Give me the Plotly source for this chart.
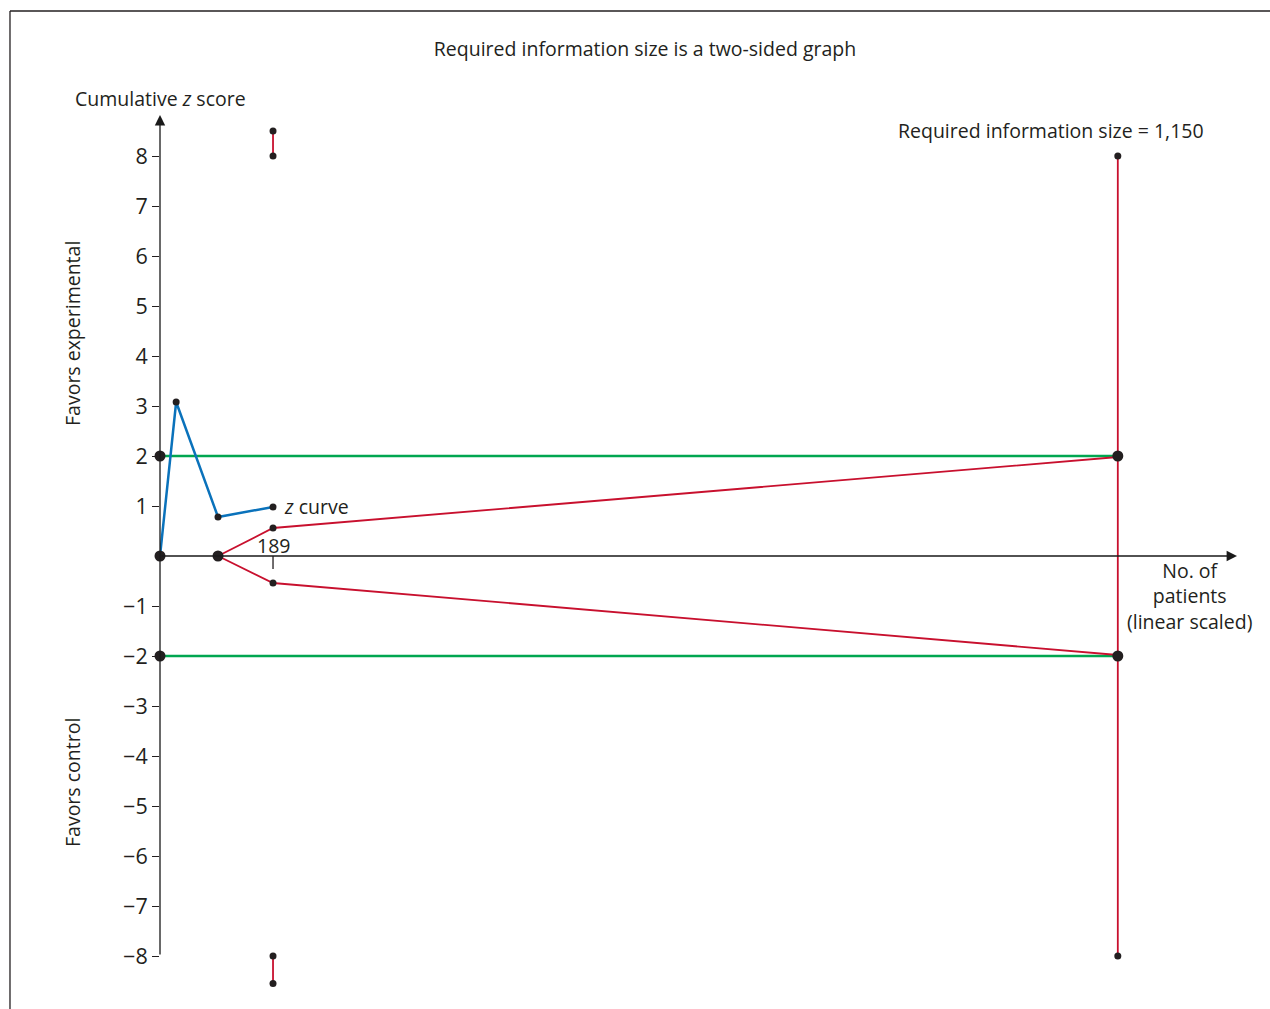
import plotly.graph_objects as go

# ---------------- data ----------------
zcurve_patients = [0, 27, 97, 189]
zcurve_values = [0, 3.08, 0.78, 0.98]

boundary_patients = [97, 189, 1150]
boundary_upper = [0, 0.56, 1.98]
boundary_lower = [0, -0.54, -1.98]

inner_top = [8.0, 8.5]          # vertical boundary pieces at 189 patients
inner_bottom = [-8.0, -8.55]

conventional_z = [2, -2]        # conventional boundaries (green)
ris_patients = 1150             # required information size
ris_span = [-8, 8]

y_tickvals = [-8, -7, -6, -5, -4, -3, -2, -1, 1, 2, 3, 4, 5, 6, 7, 8]
y_ticktext = [("\u2212" + str(-v)) if v < 0 else str(v) for v in y_tickvals]
x_tick_patients = 189

# axis beyond 189 patients is compressed/stretched in the original drawing
AFTER_189 = 1.47


def pos(n):
    return n if n <= 189 else 189 + (n - 189) * AFTER_189


def P(lst):
    return [pos(n) for n in lst]


BLUE = "#0a72bb"
RED = "#c8102e"
GREEN = "#00a650"
DOT = "#231f20"
FONT = "Open Sans"
FS = 19.5

fig = go.Figure()

# green conventional boundaries
for zc in conventional_z:
    fig.add_trace(go.Scatter(x=P([0, ris_patients]), y=[zc, zc], mode="lines",
                             line=dict(color=GREEN, width=2.5), hoverinfo="skip"))

# red monitoring boundaries
fig.add_trace(go.Scatter(x=P(boundary_patients), y=boundary_upper, mode="lines",
                         line=dict(color=RED, width=1.8)))
fig.add_trace(go.Scatter(x=P(boundary_patients), y=boundary_lower, mode="lines",
                         line=dict(color=RED, width=1.8)))
fig.add_trace(go.Scatter(x=P([189, 189]), y=inner_top, mode="lines",
                         line=dict(color=RED, width=1.8)))
fig.add_trace(go.Scatter(x=P([189, 189]), y=inner_bottom, mode="lines",
                         line=dict(color=RED, width=1.8)))
# RIS vertical line
fig.add_trace(go.Scatter(x=P([ris_patients, ris_patients]), y=ris_span, mode="lines",
                         line=dict(color=RED, width=1.8)))

# z curve
fig.add_trace(go.Scatter(x=P(zcurve_patients), y=zcurve_values, mode="lines",
                         line=dict(color=BLUE, width=2.5)))

# small dots
sx = P(zcurve_patients[1:]) + P(boundary_patients[1:2]) * 2 + P([189] * 4) + P([ris_patients] * 2)
sy = zcurve_values[1:] + [boundary_upper[1], boundary_lower[1]] + inner_top + inner_bottom + ris_span
fig.add_trace(go.Scatter(x=sx, y=sy, mode="markers", cliponaxis=False,
                         marker=dict(color=DOT, size=7)))
# big dots
bx = P([0, boundary_patients[0], 0, 0, ris_patients, ris_patients])
by = [0, 0, conventional_z[0], conventional_z[1], conventional_z[0], conventional_z[1]]
fig.add_trace(go.Scatter(x=bx, y=by, mode="markers", cliponaxis=False,
                         marker=dict(color=DOT, size=11)))

annotations = []
# axes arrows
annotations.append(dict(x=0, y=8.82, ax=0, ay=-8, xref="x", yref="y", axref="x", ayref="y",
                        text="", showarrow=True, arrowhead=2, arrowsize=1.6, arrowwidth=1.3,
                        arrowcolor="#1a1a1a", standoff=0))
annotations.append(dict(x=1801, y=0, ax=0, ay=0, xref="x", yref="y", axref="x", ayref="y",
                        text="", showarrow=True, arrowhead=2, arrowsize=1.6, arrowwidth=1.3,
                        arrowcolor="#1a1a1a", standoff=0))

txt = dict(family=FONT, size=FS, color="#231f20")
annotations += [
    dict(x=0, y=1.0022, xref="paper", yref="paper", text="Cumulative <i>z</i> score",
         showarrow=False, font=txt, xanchor="center", yanchor="middle"),
    dict(x=pos(189), y=0.22, xref="x", yref="y", text="189", showarrow=False,
         font=txt, xanchor="center", yanchor="middle"),
    dict(x=pos(189) + 15, y=1.0, xref="x", yref="y", text="<i>z</i> curve", showarrow=False,
         font=txt, xanchor="left", yanchor="middle"),
    dict(x=pos(ris_patients) + 148, y=8.52, xref="x", yref="y",
         text="Required information size = 1,150", showarrow=False,
         font=txt, xanchor="right", yanchor="middle"),
    dict(x=pos(ris_patients) + 120, y=-0.8, xref="x", yref="y",
         text="No. of<br>patients<br>(linear scaled)", showarrow=False,
         font=txt, xanchor="center", yanchor="middle", align="center"),
    dict(x=-0.0815, y=0.7411, xref="paper", yref="paper", text="Favors experimental",
         showarrow=False, font=txt, textangle=-90, xanchor="center", yanchor="middle"),
    dict(x=-0.0815, y=0.2422, xref="paper", yref="paper", text="Favors control",
         showarrow=False, font=txt, textangle=-90, xanchor="center", yanchor="middle"),
]

shapes = [
    # x tick at 189
    dict(type="line", xref="x", yref="y", x0=pos(x_tick_patients), x1=pos(x_tick_patients),
         y0=0, y1=-0.26, line=dict(color="#231f20", width=1.3)),
    # frame (top and left border)
    dict(type="line", xref="paper", yref="paper", x0=-0.1389, x1=1.03, y0=1.0989, y1=1.0989,
         line=dict(color="#231f20", width=1.3)),
    dict(type="line", xref="paper", yref="paper", x0=-0.1389, x1=-0.1389, y0=1.0989, y1=-0.02,
         line=dict(color="#231f20", width=1.3)),
]

fig.update_layout(
    width=1270, height=1009,
    margin=dict(l=160, r=30, t=100, b=9),
    plot_bgcolor="white", paper_bgcolor="white",
    showlegend=False,
    title=dict(text="Required information size is a two-sided graph", x=645 / 1270,
               xanchor="center", y=1 - 49 / 1009, yanchor="middle", yref="container",
               font=dict(family=FONT, size=FS, color="#231f20")),
    xaxis=dict(range=[0, 1806], showgrid=False, zeroline=False, showline=False,
               showticklabels=False, ticks=""),
    yaxis=dict(range=[-8.88, 9.12], showgrid=False, zeroline=False, showline=False,
               tickvals=y_tickvals, ticktext=y_ticktext, ticks="outside", ticklen=7,
               tickcolor="#231f20", tickwidth=1.2,
               tickfont=dict(family=FONT, size=21.5, color="#231f20")),
    annotations=annotations,
    shapes=shapes,
    font=dict(family=FONT),
)

fig.write_html("out.html", config={"displayModeBar": False},
               post_script="document.body.style.margin='0';")
